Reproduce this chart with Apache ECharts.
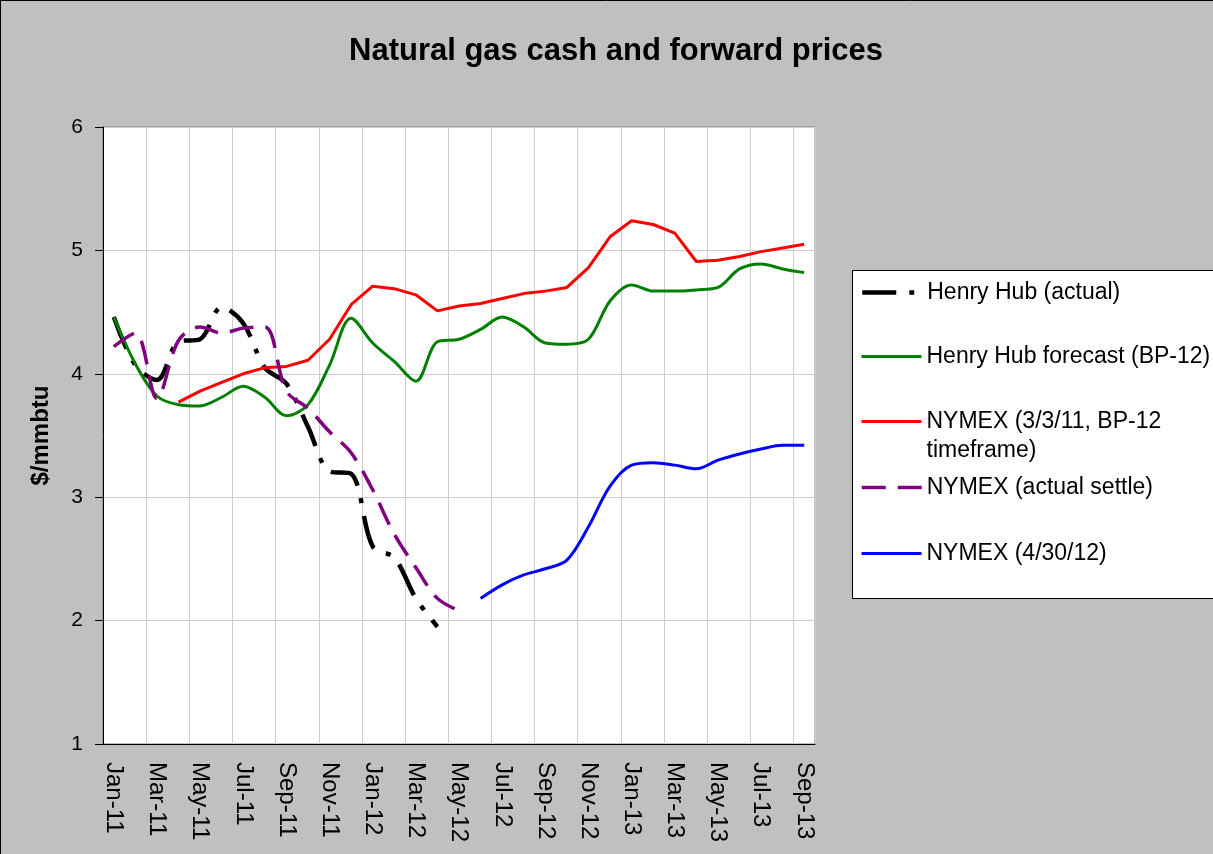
<!DOCTYPE html>
<html>
<head>
<meta charset="utf-8">
<title>Natural gas cash and forward prices</title>
<script src="https://cdn.jsdelivr.net/npm/echarts@6/dist/echarts.min.js"></script>
<style>
  html, body { margin: 0; padding: 0; background: #c0c0c0; }
  #main { width: 1213px; height: 854px; }
</style>
</head>
<body>
<div id="main"></div>
<script>
// monthly categories, Jan-11 .. Sep-13
var months = ['Jan-11','Feb-11','Mar-11','Apr-11','May-11','Jun-11','Jul-11','Aug-11','Sep-11','Oct-11','Nov-11','Dec-11',
  'Jan-12','Feb-12','Mar-12','Apr-12','May-12','Jun-12','Jul-12','Aug-12','Sep-12','Oct-12','Nov-12','Dec-12',
  'Jan-13','Feb-13','Mar-13','Apr-13','May-13','Jun-13','Jul-13','Aug-13','Sep-13'];

var hhActual = [4.46,4.07,3.95,4.26,4.28,4.54,4.41,4.05,3.92,3.57,3.21,3.19,
  2.60,2.51,2.18,1.95];

var hhForecast = [4.46,4.08,3.82,3.75,3.74,3.81,3.90,3.81,3.66,3.75,4.07,4.45,
  4.25,4.10,3.94,4.26,4.28,4.36,4.46,4.38,4.25,4.24,4.28,4.59,
  4.72,4.67,4.67,4.68,4.70,4.85,4.89,4.85,4.82];

var nymexBP12 = [null,null,null,3.77,3.86,3.93,4.00,4.05,4.06,4.11,4.28,4.56,
  4.71,4.69,4.64,4.51,4.55,4.57,4.61,4.65,4.67,4.70,4.86,5.11,
  5.24,5.21,5.14,4.91,4.92,4.95,4.99,5.02,5.05];

var nymexSettle = [4.22,4.33,3.80,4.27,4.38,4.33,4.37,4.38,3.86,3.72,3.53,3.36,
  3.06,2.70,2.43,2.18,2.08];

var nymexApr = [null,null,null,null,null,null,null,null,null,null,null,null,
  null,null,null,null,null,2.18,2.29,2.37,2.42,2.49,2.76,3.09,
  3.26,3.28,3.26,3.23,3.30,3.35,3.39,3.42,3.42];

var names = ['Henry Hub (actual)', 'Henry Hub forecast (BP-12)', 'NYMEX (3/3/11, BP-12 timeframe)',
  'NYMEX (actual settle)', 'NYMEX (4/30/12)'];

var font = 'Arial, "Liberation Sans", sans-serif';

var myChart = echarts.init(document.getElementById('main'));

function lineSeries(name, data, color, width, type, smooth) {
  return {
    name: name,
    type: 'line',
    data: data,
    symbol: 'none',
    smooth: smooth,
    connectNulls: false,
    lineStyle: { color: color, width: width, type: type, cap: 'butt' },
    itemStyle: { color: color },
    emphasis: { disabled: true }
  };
}

function legendAt(name, top, width) {
  return {
    data: [name],
    orient: 'vertical',
    left: 860,
    top: top,
    padding: 0,
    itemWidth: 60,
    itemHeight: 26,
    itemGap: 0,
    selectedMode: false,
    itemStyle: { opacity: 0 },
    lineStyle: { width: width },
    textStyle: { fontFamily: font, fontSize: 23, color: '#000', lineHeight: 29 },
    formatter: function (n) {
      // blank first line keeps the icon level with the first text line
      return n === names[2] ? ' \nNYMEX (3/3/11, BP-12\ntimeframe)' : n;
    }
  };
}

var option = {
  backgroundColor: '#c0c0c0',
  animation: false,
  textStyle: { fontFamily: font },
  title: {
    text: 'Natural gas cash and forward prices',
    left: 349,
    top: 36,
    padding: 0,
    textStyle: { fontFamily: font, fontSize: 31, fontWeight: 'bold', color: '#000' }
  },
  grid: {
    left: 103, top: 127, right: 398, bottom: 110,
    show: true, backgroundColor: '#fff', borderColor: '#808080', borderWidth: 1
  },
  legend: [
    legendAt(names[0], 278, 4.5),
    legendAt(names[1], 342, 3),
    legendAt(names[2], 378, 3),
    legendAt(names[3], 473, 3.5),
    legendAt(names[4], 539, 3)
  ],
  graphic: [
    { type: 'rect', shape: { x: 852.5, y: 270.5, width: 400, height: 328 },
      style: { fill: '#fff', stroke: '#000', lineWidth: 1 }, z: 0 },
    { type: 'rect', shape: { x: 0.5, y: 0.5, width: 1240, height: 900 },
      style: { fill: 'none', stroke: '#000', lineWidth: 1 }, z: 0 }
  ],
  xAxis: {
    type: 'category',
    data: months,
    boundaryGap: true,
    axisLine: { lineStyle: { color: '#000', width: 1 } },
    axisTick: { interval: 1, length: 8, lineStyle: { color: '#000' } },
    axisLabel: { interval: 1, rotate: -90, margin: 18, fontSize: 24, color: '#000', fontFamily: font },
    splitLine: { show: true, interval: 1, lineStyle: { color: '#cccccc', width: 1 } }
  },
  yAxis: {
    type: 'value',
    min: 1, max: 6, interval: 1,
    name: '$/mmbtu',
    nameLocation: 'middle',
    nameGap: 50,
    nameTextStyle: { fontFamily: font, fontSize: 24, fontWeight: 'bold', color: '#000' },
    axisLine: { show: true, lineStyle: { color: '#000', width: 1 } },
    axisTick: { show: true, length: 8, lineStyle: { color: '#000' } },
    axisLabel: { margin: 20, fontSize: 21, color: '#000', fontFamily: font },
    splitLine: { show: true, lineStyle: { color: '#cccccc', width: 1 } }
  },
  series: [
    lineSeries(names[0], hhActual, '#000000', 4.5, [34, 13, 5, 13], 0.33),
    lineSeries(names[1], hhForecast, '#008000', 3, 'solid', 0.33),
    lineSeries(names[2], nymexBP12, '#ff0000', 3, 'solid', false),
    lineSeries(names[3], nymexSettle, '#800080', 3.5, [24, 12], 0.33),
    lineSeries(names[4], nymexApr, '#0000ff', 3, 'solid', 0.33)
  ]
};

myChart.setOption(option);
</script>
</body>
</html>
